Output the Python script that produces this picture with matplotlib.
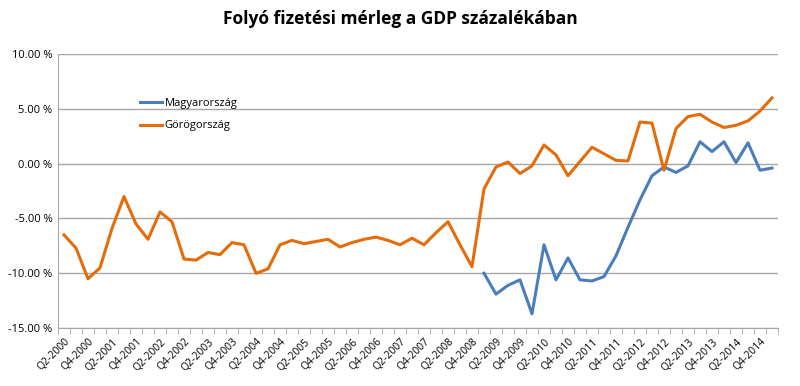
import numpy as np
import matplotlib.pyplot as plt

plt.rcParams['font.family'] = ['Open Sans', 'DejaVu Sans']

# negyedevek: Q2-2000 ... Q1-2015
negyedevek = []
for ev in range(2000, 2016):
    for q in range(1, 5):
        if (ev == 2000 and q == 1) or (ev == 2015 and q > 1):
            continue
        negyedevek.append("Q%d-%d" % (q, ev))

gorog = [-6.5, -7.7, -10.5, -9.5, -5.9, -3.0, -5.5, -6.9, -4.4, -5.3,
         -8.7, -8.8, -8.1, -8.3, -7.2, -7.4, -10.0, -9.6, -7.4, -7.0,
         -7.3, -7.1, -6.9, -7.6, -7.2, -6.9, -6.7, -7.0, -7.4, -6.8,
         -7.4, -6.3, -5.3, -7.4, -9.4, -2.3, -0.3, 0.15, -0.9, -0.2,
         1.7, 0.8, -1.1, 0.2, 1.5, 0.9, 0.3, 0.25, 3.8, 3.7,
         -0.6, 3.2, 4.3, 4.5, 3.8, 3.3, 3.5, 3.9, 4.8, 6.0]

magyar = [np.nan] * 35 + [-10.0, -11.9, -11.1, -10.6, -13.7, -7.4, -10.6, -8.6, -10.6, -10.7,
                          -10.3, -8.4, -5.8, -3.3, -1.1, -0.3, -0.8, -0.2, 2.0, 1.1,
                          2.0, 0.1, 1.9, -0.6, -0.4]

kek = '#4A7EBB'
narancs = '#E46C0A'

fig = plt.figure(figsize=(8, 3.86), dpi=100)
ax = fig.add_axes([0.0725, 0.15, 0.9, 0.71])

x = np.arange(len(negyedevek))
ax.plot(x, magyar, color=kek, lw=2.2, label='Magyarország')
ax.plot(x, gorog, color=narancs, lw=2.2, label='Görögország')

ax.set_xlim(-0.5, len(negyedevek) - 0.5)
ax.set_ylim(-15, 10)
ax.set_yticks(np.arange(-15, 11, 5))
ax.set_yticklabels(['%.2f %%' % v for v in np.arange(-15, 11, 5)], fontsize=8)
ax.yaxis.grid(True, color='#a6a6a6', lw=1)
ax.set_axisbelow(True)
ax.tick_params(axis='y', length=0, pad=4)

ax.set_xticks(x[::2])
ax.set_xticklabels(negyedevek[::2], rotation=45, ha='right', rotation_mode='anchor', fontsize=7.5)
ax.set_xticks(np.arange(-0.5, len(negyedevek), 1), minor=True)
ax.tick_params(axis='x', which='major', length=0, pad=6)
ax.tick_params(axis='x', which='minor', length=4, color='#a6a6a6', direction='out')

for s in ['top', 'right']:
    ax.spines[s].set_visible(False)
ax.spines['left'].set_color('#a6a6a6')
ax.spines['bottom'].set_color('#a6a6a6')

ax.legend(loc='upper left', bbox_to_anchor=(0.1, 0.875), frameon=False, fontsize=8,
          handlelength=2.0, handletextpad=0.2, labelspacing=1.0)

fig.suptitle('Folyó fizetési mérleg a GDP százalékában', fontsize=12.5, fontweight='bold', y=0.975)

fig.savefig('out.png')
